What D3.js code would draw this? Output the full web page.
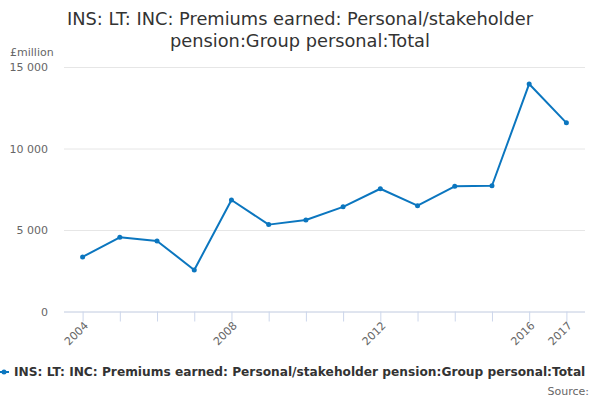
<!DOCTYPE html>
<html>
<head>
<meta charset="utf-8">
<script src="https://cdn.jsdelivr.net/npm/d3@7"></script>
<style>
  body { margin: 0; background: #fff; }
  svg { font-family: "DejaVu Sans", sans-serif; }
</style>
</head>
<body>
<svg width="600" height="400"></svg>
<script>
// values
const years = [2004, 2005, 2006, 2007, 2008, 2009, 2010, 2011, 2012, 2013, 2014, 2015, 2016, 2017];
const premiums = [3350, 4550, 4330, 2550, 6840, 5330, 5615, 6420, 7530, 6490, 7680, 7715, 13960, 11575];
const yTicks = [0, 5000, 10000, 15000];
const xLabels = [2004, 2008, 2012, 2016, 2017];

const titleLines = ["INS: LT: INC: Premiums earned: Personal/stakeholder", "pension:Group personal:Total"];
const seriesName = "INS: LT: INC: Premiums earned: Personal/stakeholder pension:Group personal:Total";

const blue = "#0b76bf";
const svg = d3.select('svg');

const xScale = d3.scalePoint()
  .domain(years)
  .range([64, 585])
  .padding(0.5);

const yScale = d3.scaleLinear()
  .domain([0, 15000])
  .range([311.5, 67]);

const fmt = d => d3.format(",")(d).replace(/,/g, " ");

// title
svg.append('text')
  .attr('x', 300).attr('y', 25)
  .attr('text-anchor', 'middle')
  .style('font-size', '17.8px')
  .style('fill', '#333')
  .selectAll('tspan').data(titleLines).enter()
  .append('tspan')
  .attr('x', 300)
  .attr('dy', (d, i) => i ? 22 : 0)
  .text(d => d);

svg.append('text')
  .attr('x', 10).attr('y', 56)
  .style('font-size', '11px')
  .style('fill', '#666')
  .text('£million');

// grid + y labels
const yAxis = d3.axisLeft(yScale)
  .tickValues(yTicks)
  .tickSize(-(585 - 64))
  .tickPadding(16)
  .tickFormat(fmt);

svg.append('g').attr('id', 'y-axis')
  .attr('transform', 'translate(64, 0)')
  .call(yAxis)
  .call(g => g.select('.domain').remove())
  .call(g => g.selectAll('line').attr('stroke', '#e6e6e6'))
  .call(g => g.selectAll('text').style('font-size', '11px').style('fill', '#666').style('font-family', 'DejaVu Sans'));

// x axis
const xAxis = d3.axisBottom(xScale)
  .tickSize(10)
  .tickFormat(d => xLabels.includes(d) ? d : '');

svg.append('g').attr('id', 'x-axis')
  .attr('transform', `translate(0, ${yScale(0)})`)
  .call(xAxis)
  .call(g => g.select('.domain').attr('stroke', '#ccd6eb').attr('d', 'M64,0.5H585'))
  .call(g => g.selectAll('line').attr('stroke', '#ccd6eb'))
  .call(g => g.selectAll('text')
    .style('font-size', '11px').style('fill', '#666').style('font-family', 'DejaVu Sans')
    .attr('text-anchor', 'end')
    .attr('y', 0)
    .attr('dy', '0.35em')
    .attr('transform', 'translate(3, 12) rotate(-45)'));

// line
const line = d3.line()
  .x((d, i) => xScale(years[i]))
  .y(d => yScale(d));

svg.append('path')
  .datum(premiums)
  .attr('fill', 'none')
  .attr('stroke', blue)
  .attr('stroke-width', 2)
  .attr('stroke-linejoin', 'round')
  .attr('d', line);

svg.selectAll('circle.dot').data(premiums).enter()
  .append('circle')
  .attr('class', 'dot')
  .attr('r', 2.5)
  .attr('cx', (d, i) => xScale(years[i]))
  .attr('cy', d => yScale(d))
  .style('fill', blue);

// legend
const legend = svg.append('g').attr('id', 'legend');
legend.append('line')
  .attr('x1', 0).attr('x2', 9).attr('y1', 372).attr('y2', 372)
  .attr('stroke', blue).attr('stroke-width', 2);
legend.append('circle')
  .attr('cx', 4).attr('cy', 372).attr('r', 2.5).style('fill', blue);
legend.append('text')
  .attr('x', 14).attr('y', 376)
  .style('font-size', '12.2px')
  .style('font-weight', 'bold')
  .style('fill', '#333')
  .text(seriesName);

svg.append('text')
  .attr('x', 589).attr('y', 395)
  .attr('text-anchor', 'end')
  .style('font-size', '11px')
  .style('fill', '#666')
  .text('Source:');
</script>
</body>
</html>
